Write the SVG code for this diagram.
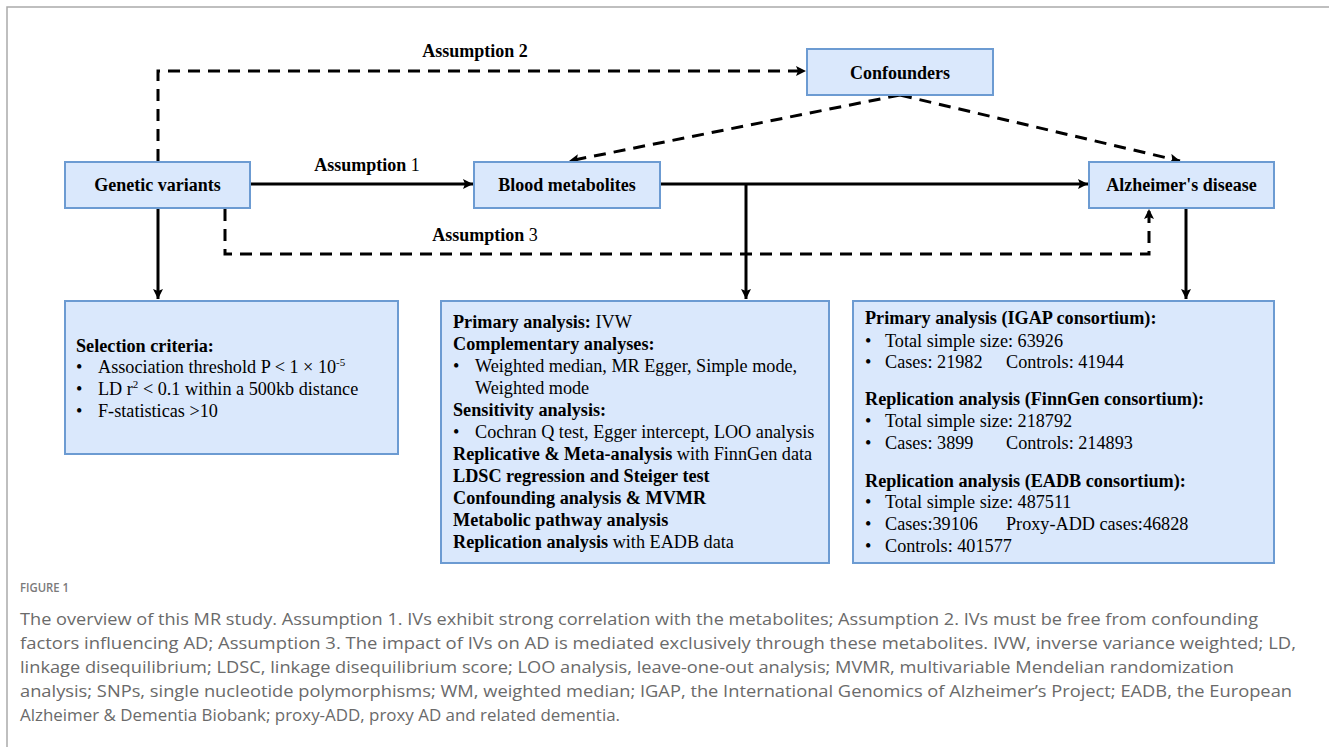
<svg xmlns="http://www.w3.org/2000/svg" width="1329" height="747" viewBox="0 0 1329 747">
<defs>
<style>
.box{fill:#dae8fc;stroke:#6c9bd2;stroke-width:2}
.lbl{font-family:"Liberation Serif","Times New Roman",serif;font-weight:bold;font-size:18px;fill:#000;text-anchor:middle}
.txt{font-family:"Liberation Serif","Times New Roman",serif;font-size:18.2px;fill:#000}
.b{font-weight:bold}
.ln{fill:none;stroke:#000;stroke-width:3}
.dash{fill:none;stroke:#000;stroke-width:3;stroke-dasharray:12 8}
.cap{font-family:"Open Sans","Noto Sans",sans-serif;font-size:17px;fill:#6a6a6a}
.fig{font-family:"Open Sans","Noto Sans",sans-serif;font-size:13px;fill:#7a7a7a;font-weight:600}
</style>
<marker id="ah" viewBox="0 0 10 10" refX="10" refY="5" markerWidth="11" markerHeight="10" markerUnits="userSpaceOnUse" orient="auto">
<path d="M0,0 L10,5 L0,10 L2,5 z" fill="#000"/>
</marker>
</defs>
<rect x="0" y="0" width="1329" height="747" fill="#fff"/>
<path d="M7,747 V7 H1329" fill="none" stroke="#aaa" stroke-width="1.5"/>

<g id="connectors">
<line class="ln" x1="250" y1="184" x2="473" y2="184" marker-end="url(#ah)"/>
<line class="ln" x1="660" y1="184" x2="1088" y2="184" marker-end="url(#ah)"/>
<line class="ln" x1="746" y1="184" x2="746" y2="299" marker-end="url(#ah)"/>
<line class="ln" x1="158" y1="208" x2="158" y2="299" marker-end="url(#ah)"/>
<line class="ln" x1="1186" y1="208" x2="1186" y2="299" marker-end="url(#ah)"/>
<path class="dash" d="M158,161 V71 H806" marker-end="url(#ah)"/>
<path class="dash" d="M900,95 L569,161" marker-end="url(#ah)"/>
<path class="dash" d="M900,95 L1180,161" marker-end="url(#ah)"/>
<path class="dash" d="M225,209 V254 H1149 V209" marker-end="url(#ah)"/>
<text class="lbl" x="475" y="57">Assumption 2</text>
<text class="lbl" x="367" y="171">Assumption <tspan font-weight="normal">1</tspan></text>
<text class="lbl" x="485" y="241">Assumption <tspan font-weight="normal">3</tspan></text>
</g>

<g id="genetic">
<rect class="box" x="65" y="162" width="185" height="46"/>
<text class="lbl" x="157.5" y="191">Genetic variants</text>
</g>
<g id="blood">
<rect class="box" x="474" y="162" width="186" height="46"/>
<text class="lbl" x="567" y="191">Blood metabolites</text>
</g>
<g id="confounders">
<rect class="box" x="807" y="49" width="186" height="46"/>
<text class="lbl" x="900" y="79">Confounders</text>
</g>
<g id="ad">
<rect class="box" x="1089" y="162" width="185" height="46"/>
<text class="lbl" x="1181.5" y="191">Alzheimer's disease</text>
</g>

<g id="selection">
<rect class="box" x="65" y="301" width="333" height="153"/>
<text class="txt b" x="76" y="352">Selection criteria:</text>
<text class="txt" x="76" y="373">•</text>
<text class="txt" x="98" y="373">Association threshold P &lt; 1 × 10<tspan dy="-7" font-size="11">-5</tspan></text>
<text class="txt" x="76" y="395">•</text>
<text class="txt" x="98" y="395">LD r<tspan dy="-7" font-size="11">2</tspan><tspan dy="7"> &lt; 0.1 within a 500kb distance</tspan></text>
<text class="txt" x="76" y="417">•</text>
<text class="txt" x="98" y="417">F-statisticas &gt;10</text>
</g>

<g id="methods">
<rect class="box" x="441" y="301" width="388" height="262"/>
<text class="txt" x="453" y="328"><tspan class="b">Primary analysis:</tspan> IVW</text>
<text class="txt b" x="453" y="350">Complementary analyses:</text>
<text class="txt" x="453" y="372">•</text>
<text class="txt" x="475" y="372">Weighted median, MR Egger, Simple mode,</text>
<text class="txt" x="475" y="394">Weighted mode</text>
<text class="txt b" x="453" y="416">Sensitivity analysis:</text>
<text class="txt" x="453" y="438">•</text>
<text class="txt" x="475" y="438">Cochran Q test, Egger intercept, LOO analysis</text>
<text class="txt" x="453" y="460"><tspan class="b">Replicative &amp; Meta-analysis</tspan> with FinnGen data</text>
<text class="txt b" x="453" y="482">LDSC regression and Steiger test</text>
<text class="txt b" x="453" y="504">Confounding analysis &amp; MVMR</text>
<text class="txt b" x="453" y="526">Metabolic pathway analysis</text>
<text class="txt" x="453" y="548"><tspan class="b">Replication analysis</tspan> with EADB data</text>
</g>

<g id="datasets">
<rect class="box" x="853" y="301" width="421" height="262"/>
<text class="txt b" x="865" y="324">Primary analysis (IGAP consortium):</text>
<text class="txt" x="865" y="347">•</text>
<text class="txt" x="885" y="347">Total simple size: 63926</text>
<text class="txt" x="865" y="368">•</text>
<text class="txt" x="885" y="368">Cases: 21982<tspan x="1006">Controls: 41944</tspan></text>
<text class="txt b" x="865" y="405">Replication analysis (FinnGen consortium):</text>
<text class="txt" x="865" y="427">•</text>
<text class="txt" x="885" y="427">Total simple size: 218792</text>
<text class="txt" x="865" y="449">•</text>
<text class="txt" x="885" y="449">Cases: 3899<tspan x="1006">Controls: 214893</tspan></text>
<text class="txt b" x="865" y="487">Replication analysis (EADB consortium):</text>
<text class="txt" x="865" y="508">•</text>
<text class="txt" x="885" y="508">Total simple size: 487511</text>
<text class="txt" x="865" y="530">•</text>
<text class="txt" x="885" y="530">Cases:39106<tspan x="1006">Proxy-ADD cases:46828</tspan></text>
<text class="txt" x="865" y="552">•</text>
<text class="txt" x="885" y="552">Controls: 401577</text>
</g>

<g id="caption">
<text class="fig" x="20" y="592" textLength="49" lengthAdjust="spacingAndGlyphs">FIGURE 1</text>
<text class="cap" x="20" y="625" textLength="1238" lengthAdjust="spacingAndGlyphs">The overview of this MR study. Assumption 1. IVs exhibit strong correlation with the metabolites; Assumption 2. IVs must be free from confounding</text>
<text class="cap" x="20" y="649" textLength="1276" lengthAdjust="spacingAndGlyphs">factors influencing AD; Assumption 3. The impact of IVs on AD is mediated exclusively through these metabolites. IVW, inverse variance weighted; LD,</text>
<text class="cap" x="20" y="673" textLength="1214" lengthAdjust="spacingAndGlyphs">linkage disequilibrium; LDSC, linkage disequilibrium score; LOO analysis, leave-one-out analysis; MVMR, multivariable Mendelian randomization</text>
<text class="cap" x="20" y="697" textLength="1272" lengthAdjust="spacingAndGlyphs">analysis; SNPs, single nucleotide polymorphisms; WM, weighted median; IGAP, the International Genomics of Alzheimer’s Project; EADB, the European</text>
<text class="cap" x="20" y="721" textLength="600" lengthAdjust="spacingAndGlyphs">Alzheimer &amp; Dementia Biobank; proxy-ADD, proxy AD and related dementia.</text>
</g>
</svg>
